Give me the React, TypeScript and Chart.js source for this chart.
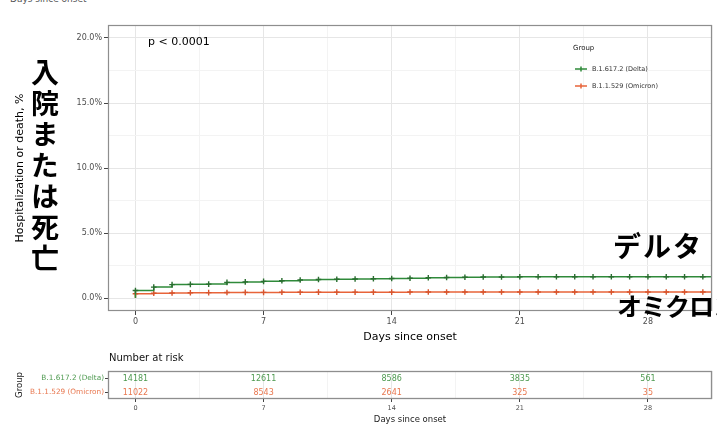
import React, { useEffect, useRef } from "react";
import { Chart, registerables } from "chart.js";

Chart.register(...registerables);

// ---------- data ----------
const days = [0, 1, 2, 3, 4, 5, 6, 7, 8, 9, 10, 11, 12, 13, 14, 15, 16, 17, 18, 19, 20, 21, 22, 23, 24, 25, 26, 27, 28, 29, 30, 31];
const deltaPct = [0.58, 0.84, 1.03, 1.05, 1.07, 1.2, 1.24, 1.28, 1.33, 1.38, 1.42, 1.44, 1.46, 1.48, 1.5, 1.52, 1.56, 1.58, 1.6, 1.61, 1.62, 1.63, 1.63, 1.63, 1.64, 1.64, 1.64, 1.64, 1.64, 1.64, 1.64, 1.64];
const omicronPct = [0.33, 0.36, 0.39, 0.4, 0.41, 0.42, 0.43, 0.43, 0.44, 0.44, 0.45, 0.45, 0.45, 0.45, 0.45, 0.46, 0.46, 0.46, 0.46, 0.46, 0.46, 0.46, 0.46, 0.46, 0.46, 0.46, 0.46, 0.46, 0.46, 0.46, 0.46, 0.46];
const followUpEnd = 31.5;
const groups = ["B.1.617.2 (Delta)", "B.1.1.529 (Omicron)"];
const xMajor = [0, 7, 14, 21, 28];
const xMinor = [3.5, 10.5, 17.5, 24.5, 31.5];
const yMajor = [0, 5, 10, 15, 20];
const yMinor = [2.5, 7.5, 12.5, 17.5];
const riskDays = [0, 7, 14, 21, 28];
const riskDelta = [14181, 12611, 8586, 3835, 561];
const riskOmicron = [11022, 8543, 2641, 325, 35];
const pValueText = "p < 0.0001";

// ---------- styles ----------
const GREEN = "#2F8A3A";
const ORANGE = "#E8643A";
const GREEN_TXT = "#4E9A50";
const ORANGE_TXT = "#E8774F";
const FONT = '"DejaVu Sans", "Liberation Sans", sans-serif';
const GRID_MAJOR = "#E6E6E6";
const GRID_MINOR = "#F3F3F3";

const majorX = new Set(xMajor);
const majorY = new Set(yMajor);

const panelBorder = {
  id: "panelBorder",
  afterDraw(chart: any, _a: any, opts: any) {
    const { ctx, chartArea } = chart;
    const { left, top, right, bottom } = chartArea;
    ctx.save();
    ctx.strokeStyle = opts.color || "#888";
    ctx.lineWidth = opts.width || 1;
    ctx.strokeRect(left + 0.5, top + 0.5, right - left - 1, bottom - top - 1);
    ctx.restore();
  },
};

const mainDecor = {
  id: "mainDecor",
  afterDraw(chart: any) {
    const { ctx, chartArea } = chart;
    ctx.save();
    // p value
    ctx.font = `11px ${FONT}`;
    ctx.fillStyle = "#000";
    ctx.textBaseline = "middle";
    ctx.textAlign = "left";
    ctx.fillText(pValueText, chartArea.left + 40, chartArea.top + 17);
    // legend
    const x0 = chartArea.left + 465;
    ctx.font = `7px ${FONT}`;
    ctx.fillStyle = "#222";
    ctx.fillText("Group", x0, chartArea.top + 23);
    chart.data.datasets.forEach((ds: any, i: number) => {
      const y = chartArea.top + 44 + i * 17;
      ctx.strokeStyle = ds.borderColor;
      ctx.lineWidth = 1.5;
      ctx.beginPath();
      ctx.moveTo(x0 + 2, y);
      ctx.lineTo(x0 + 14, y);
      ctx.moveTo(x0 + 8, y - 2.5);
      ctx.lineTo(x0 + 8, y + 2.5);
      ctx.stroke();
      ctx.font = `6.5px ${FONT}`;
      ctx.fillStyle = "#333";
      ctx.fillText(ds.label, x0 + 19, y);
    });
    ctx.restore();
  },
};

const riskLabels = {
  id: "riskLabels",
  afterDatasetsDraw(chart: any) {
    const { ctx } = chart;
    const sets = [riskDelta, riskOmicron];
    const cols = [GREEN_TXT, ORANGE_TXT];
    ctx.save();
    ctx.font = `8px ${FONT}`;
    ctx.textAlign = "center";
    ctx.textBaseline = "middle";
    chart.data.datasets.forEach((_ds: any, i: number) => {
      const meta = chart.getDatasetMeta(i);
      ctx.fillStyle = cols[i];
      meta.data.forEach((pt: any, j: number) => {
        ctx.fillText(String(sets[i][j]), pt.x, pt.y + 0.5);
      });
    });
    ctx.restore();
  },
};

function curve(vals: number[]) {
  return [
    { x: 0, y: 0 },
    ...days.map((d, i) => ({ x: d, y: vals[i] })),
    { x: followUpEnd, y: vals[vals.length - 1] },
  ];
}

function xGrid(tickLen: number) {
  return {
    color: (c: any) => (c.tick && majorX.has(c.tick.value) ? GRID_MAJOR : GRID_MINOR),
    tickColor: (c: any) => (c.tick && majorX.has(c.tick.value) ? "#444" : "rgba(0,0,0,0)"),
    tickLength: tickLen,
    lineWidth: 1,
  };
}

export default function App() {
  const mainRef = useRef<HTMLCanvasElement | null>(null);
  const riskRef = useRef<HTMLCanvasElement | null>(null);

  useEffect(() => {
    const n = days.length + 2;
    const radius = (c: any) => (c.dataIndex === 0 || c.dataIndex === n - 1 ? 0 : 2.8);
    const xTickList = [...xMajor, ...xMinor].sort((a, b) => a - b);
    const yTickList = [...yMajor, ...yMinor].sort((a, b) => a - b);

    const main = new Chart(mainRef.current as HTMLCanvasElement, {
      type: "line",
      data: {
        datasets: [
          {
            label: groups[0],
            data: curve(deltaPct),
            borderColor: GREEN,
            backgroundColor: GREEN,
            borderWidth: 1.5,
            stepped: true,
            pointStyle: "cross",
            pointRadius: radius,
            pointBorderWidth: 1.4,
            pointBorderColor: "#2A6E30",
            fill: false,
          },
          {
            label: groups[1],
            data: curve(omicronPct),
            borderColor: ORANGE,
            backgroundColor: ORANGE,
            borderWidth: 1.5,
            stepped: true,
            pointStyle: "cross",
            pointRadius: radius,
            pointBorderWidth: 1.4,
            pointBorderColor: "#D8552E",
            fill: false,
          },
        ],
      } as any,
      options: {
        animation: false,
        responsive: false,
        layout: { padding: { top: 25, right: 5, left: 0, bottom: 0 } },
        plugins: {
          legend: { display: false },
          tooltip: { enabled: false },
          panelBorder: { color: "#8E8E8E", width: 1.2 },
        } as any,
        scales: {
          x: {
            type: "linear",
            min: -1.5,
            max: 31.5,
            afterBuildTicks: (s: any) => {
              s.ticks = xTickList.map((v) => ({ value: v }));
            },
            afterFit: (s: any) => {
              s.height = 34;
            },
            ticks: {
              autoSkip: false,
              maxRotation: 0,
              minRotation: 0,
              padding: 2,
              color: "#4D4D4D",
              font: { family: FONT, size: 8 },
              callback: (v: any) => (majorX.has(Number(v)) ? String(v) : ""),
            },
            grid: xGrid(4) as any,
            border: { display: false },
            title: {
              display: true,
              text: "Days since onset",
              color: "#000",
              font: { family: FONT, size: 11 },
              padding: { top: 0, bottom: 1 },
            },
          },
          y: {
            type: "linear",
            min: -1,
            max: 21,
            afterBuildTicks: (s: any) => {
              s.ticks = yTickList.map((v) => ({ value: v }));
            },
            afterFit: (s: any) => {
              s.width = 108;
            },
            ticks: {
              autoSkip: false,
              padding: 2,
              color: "#4D4D4D",
              font: { family: FONT, size: 8 },
              callback: (v: any) => (majorY.has(Number(v)) ? Number(v).toFixed(1) + "%" : ""),
            },
            grid: {
              color: (c: any) => (c.tick && majorY.has(c.tick.value) ? GRID_MAJOR : GRID_MINOR),
              tickColor: (c: any) => (c.tick && majorY.has(c.tick.value) ? "#444" : "rgba(0,0,0,0)"),
              tickLength: 4,
            } as any,
            border: { display: false },
            title: {
              display: true,
              text: "Hospitalization or death, %",
              color: "#000",
              font: { family: FONT, size: 11 },
              padding: { top: 14, bottom: 0 },
            },
          },
        },
      },
      plugins: [panelBorder, mainDecor],
    });

    const risk = new Chart(riskRef.current as HTMLCanvasElement, {
      type: "scatter",
      data: {
        datasets: [
          {
            label: groups[0],
            data: riskDays.map((d) => ({ x: d, y: groups[0] })),
            pointRadius: 0,
            showLine: false,
          },
          {
            label: groups[1],
            data: riskDays.map((d) => ({ x: d, y: groups[1] })),
            pointRadius: 0,
            showLine: false,
          },
        ],
      } as any,
      options: {
        animation: false,
        responsive: false,
        layout: { padding: { top: 26, right: 5, left: 0, bottom: 0 } },
        plugins: {
          legend: { display: false },
          tooltip: { enabled: false },
          panelBorder: { color: "#8E8E8E", width: 1.3 },
        } as any,
        scales: {
          x: {
            type: "linear",
            min: -1.5,
            max: 31.5,
            afterBuildTicks: (s: any) => {
              s.ticks = xTickList.map((v) => ({ value: v }));
            },
            afterFit: (s: any) => {
              s.height = 26;
            },
            ticks: {
              autoSkip: false,
              maxRotation: 0,
              minRotation: 0,
              padding: 2,
              color: "#4D4D4D",
              font: { family: FONT, size: 6.5 },
              callback: (v: any) => (majorX.has(Number(v)) ? String(v) : ""),
            },
            grid: xGrid(3) as any,
            border: { display: false },
            title: {
              display: true,
              text: "Days since onset",
              color: "#222",
              font: { family: FONT, size: 8.5 },
              padding: { top: 0, bottom: 0 },
            },
          },
          y: {
            type: "category",
            labels: groups,
            offset: true,
            afterFit: (s: any) => {
              s.width = 108;
            },
            ticks: {
              padding: 1,
              color: (c: any) => (c.index === 0 ? GREEN_TXT : ORANGE_TXT),
              font: { family: FONT, size: 7.3 },
            },
            grid: {
              drawOnChartArea: false,
              tickLength: 3,
              tickColor: "#444",
            },
            border: { display: false },
            title: {
              display: true,
              text: "Group",
              color: "#222",
              font: { family: FONT, size: 8.5 },
              padding: { top: 15, bottom: 0 },
            },
          },
        },
      } as any,
      plugins: [panelBorder, riskLabels],
    });

    return () => {
      main.destroy();
      risk.destroy();
    };
  }, []);

  const hand: React.CSSProperties = {
    position: "absolute",
    fontFamily: '"Noto Sans CJK JP", sans-serif',
    fontWeight: 700,
    color: "#000",
    lineHeight: 1,
    whiteSpace: "nowrap",
    zIndex: 2,
  };

  return (
    <div
      style={{
        position: "absolute",
        left: 0,
        top: 0,
        width: 717,
        height: 425,
        overflow: "hidden",
        background: "#fff",
      }}
    >
      <div
        style={{
          position: "absolute",
          left: 10,
          top: -5,
          fontFamily: FONT,
          fontSize: 9,
          lineHeight: "9px",
          color: "#555",
        }}
      >
        Days since onset
      </div>
      <canvas
        ref={mainRef}
        width={717}
        height={345}
        style={{ position: "absolute", left: 0, top: 0, width: 717, height: 345 }}
      />
      <canvas
        ref={riskRef}
        width={717}
        height={80}
        style={{ position: "absolute", left: 0, top: 345, width: 717, height: 80 }}
      />
      <div
        style={{
          position: "absolute",
          left: 109,
          top: 352,
          fontFamily: FONT,
          fontSize: 10,
          lineHeight: "12px",
          color: "#111",
        }}
      >
        Number at risk
      </div>
      <div
        style={{
          ...hand,
          left: 31,
          top: 58,
          fontSize: 28,
          writingMode: "vertical-rl",
          letterSpacing: 3,
        }}
      >
        入院または死亡
      </div>
      <div style={{ ...hand, left: 613, top: 231, fontSize: 28, letterSpacing: 2 }}>デルタ</div>
      <div style={{ ...hand, left: 617, top: 293, fontSize: 25, letterSpacing: -1 }}>オミクロン</div>
    </div>
  );
}
